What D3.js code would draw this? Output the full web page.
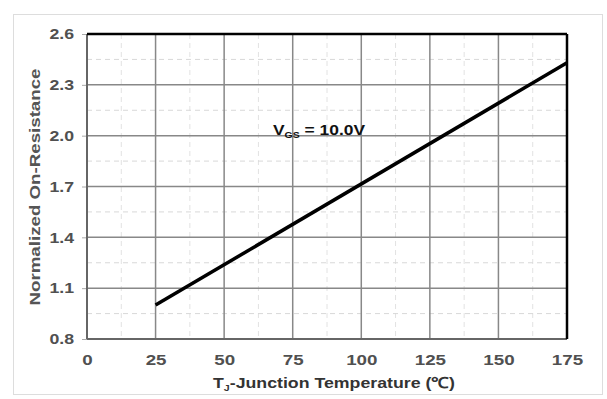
<!DOCTYPE html>
<meta charset="utf-8">
<style>
  body { margin: 0; background: #fff; }
  text { font-family: Arial, "Liberation Sans", sans-serif; font-weight: bold; }
  .tick text { fill: #505050; font-size: 15px; }
</style>
<body>
<svg width="607" height="399"></svg>
<script src="https://d3js.org/d3.v7.min.js"></script>
<script>
// Dane
const temps = [25, 175];
const resistance = [1.0, 2.43];
const xTicks = [0, 25, 50, 75, 100, 125, 150, 175];
const yTicks = [0.8, 1.1, 1.4, 1.7, 2.0, 2.3, 2.6];
const xMinor = [12.5, 37.5, 62.5, 87.5, 112.5, 137.5, 162.5];
const yMinor = [0.95, 1.25, 1.55, 1.85, 2.15, 2.45];

const svg = d3.select('svg');
const m = { left: 87, top: 34, right: 567, bottom: 339 };

// rozciągnięcie tekstu w poziomie (oryginał jest poszerzony)
function stretch(sel, k) {
  sel.each(function() {
    const w = this.getComputedTextLength();
    d3.select(this).attr('textLength', w * k).attr('lengthAdjust', 'spacingAndGlyphs');
  });
}

// Ramka zewnętrzna
svg.append('rect')
  .attr('x', 13.5).attr('y', 14.5)
  .attr('width', 589).attr('height', 380)
  .attr('fill', 'none').attr('stroke', '#ddd').attr('stroke-width', 1);

const x = d3.scaleLinear().domain([0, 175]).range([m.left, m.right]);
const y = d3.scaleLinear().domain([0.8, 2.6]).range([m.bottom, m.top]);

// Siatka pomocnicza (przerywana)
svg.append('g').selectAll('line').data(xMinor).enter().append('line')
  .attr('x1', d => x(d)).attr('x2', d => x(d))
  .attr('y1', m.top).attr('y2', m.bottom)
  .attr('stroke', '#e2e2e2').attr('stroke-dasharray', '5,4');
svg.append('g').selectAll('line').data(yMinor).enter().append('line')
  .attr('x1', m.left).attr('x2', m.right)
  .attr('y1', d => y(d)).attr('y2', d => y(d))
  .attr('stroke', '#d8d8d8').attr('stroke-dasharray', '5,4');

// Siatka główna
svg.append('g').selectAll('line').data(xTicks.slice(1, -1)).enter().append('line')
  .attr('x1', d => x(d)).attr('x2', d => x(d))
  .attr('y1', m.top).attr('y2', m.bottom)
  .attr('stroke', '#888').attr('stroke-width', 1.5);
svg.append('g').selectAll('line').data(yTicks.slice(1, -1)).enter().append('line')
  .attr('x1', m.left).attr('x2', m.right)
  .attr('y1', d => y(d)).attr('y2', d => y(d))
  .attr('stroke', '#888').attr('stroke-width', 1.5);

// Osie
const xAxis = svg.append('g')
  .attr('transform', `translate(0,${m.bottom})`)
  .call(d3.axisBottom(x).tickValues(xTicks).tickSize(0).tickPadding(15));
xAxis.select('.domain').remove();
stretch(xAxis.selectAll('.tick text'), 1.25);

const yAxis = svg.append('g')
  .attr('transform', `translate(${m.left},0)`)
  .call(d3.axisLeft(y).tickValues(yTicks).tickFormat(d3.format('.1f')).tickSize(5).tickPadding(8));
yAxis.select('.domain').remove();
yAxis.selectAll('.tick line').attr('stroke', '#aaa');
stretch(yAxis.selectAll('.tick text'), 1.18);

// Obramowanie obszaru wykresu
svg.append('line').attr('x1', m.left).attr('x2', m.left).attr('y1', m.top).attr('y2', m.bottom)
  .attr('stroke', '#666').attr('stroke-width', 2);
svg.append('line').attr('x1', m.left).attr('x2', m.right).attr('y1', m.bottom).attr('y2', m.bottom)
  .attr('stroke', '#666').attr('stroke-width', 2);
svg.append('line').attr('x1', m.left).attr('x2', m.right).attr('y1', m.top).attr('y2', m.top)
  .attr('stroke', '#000').attr('stroke-width', 2.5);
svg.append('line').attr('x1', m.right).attr('x2', m.right).attr('y1', m.top).attr('y2', m.bottom)
  .attr('stroke', '#000').attr('stroke-width', 2.5);

// Linia danych
const line = d3.line().x(d => x(d[0])).y(d => y(d[1]));
svg.append('path')
  .datum(d3.zip(temps, resistance))
  .attr('d', line)
  .attr('fill', 'none').attr('stroke', '#000').attr('stroke-width', 3.5);

// Adnotacja
const ann = svg.append('text').attr('x', 273).attr('y', 135)
  .attr('font-size', 15).attr('fill', '#111')
  .attr('textLength', 92).attr('lengthAdjust', 'spacingAndGlyphs');
ann.append('tspan').text('V');
ann.append('tspan').attr('font-size', 9).attr('dy', 3).text('GS');
ann.append('tspan').attr('dy', -3).text(' = 10.0V');

// Tytuły osi
const xt = svg.append('text').attr('x', 213).attr('y', 388)
  .attr('font-size', 15).attr('fill', '#333')
  .attr('textLength', 242).attr('lengthAdjust', 'spacingAndGlyphs');
xt.append('tspan').text('T');
xt.append('tspan').attr('font-size', 9).attr('dy', 3).text('J');
xt.append('tspan').attr('dy', -3).text('-Junction Temperature (℃)');

svg.append('text')
  .attr('transform', 'translate(40,187) rotate(-90)')
  .attr('text-anchor', 'middle').attr('font-size', 14).attr('fill', '#555')
  .attr('textLength', 237).attr('lengthAdjust', 'spacingAndGlyphs')
  .text('Normalized On-Resistance');
</script>
</body>
